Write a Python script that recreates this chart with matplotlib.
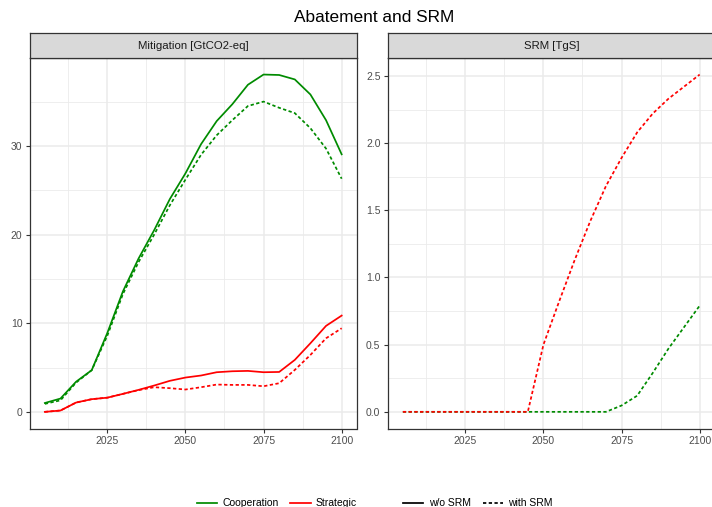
import numpy as np
import matplotlib
matplotlib.use('Agg')
import matplotlib.pyplot as plt
from matplotlib.lines import Line2D

plt.rcParams['font.family'] = ['Liberation Sans', 'DejaVu Sans']

# data
years = list(range(2005, 2101, 5))

mit_coop = [1.0, 1.5, 3.4, 4.7, 8.9, 13.6, 17.3, 20.5, 24.0, 26.9, 30.2, 32.8,
            34.7, 36.9, 38.05, 38.0, 37.5, 35.8, 32.9, 29.05]
mit_coop_srm = [0.9, 1.3, 3.3, 4.7, 8.6, 13.3, 16.9, 20.0, 23.3, 26.2, 29.0, 31.2,
                32.9, 34.5, 35.0, 34.3, 33.7, 32.0, 29.7, 26.3]
mit_strat = [0.0, 0.15, 1.05, 1.43, 1.6, 2.03, 2.48, 2.97, 3.5, 3.87, 4.1, 4.47,
             4.58, 4.62, 4.47, 4.5, 5.86, 7.74, 9.7, 10.86]
mit_strat_srm = [0.0, 0.15, 1.05, 1.43, 1.6, 2.03, 2.45, 2.78, 2.67, 2.52, 2.78, 3.08,
                 3.04, 3.04, 2.89, 3.23, 4.73, 6.42, 8.3, 9.43]

srm_coop = [0, 0, 0, 0, 0, 0, 0, 0, 0, 0, 0, 0, 0, 0, 0.047, 0.12, 0.29, 0.47, 0.63, 0.79]
srm_strat = [0, 0, 0, 0, 0, 0, 0, 0, 0, 0.5, 0.82, 1.13, 1.42, 1.68, 1.89, 2.08,
             2.22, 2.33, 2.42, 2.51]

GREEN = '#008B00'
RED = '#FF0000'
LW = 1.25
DASH = (1.9, 1.4)
GRID = '#EBEBEB'
DARK = '#333333'
TXT = '#4D4D4D'

W, H = 712, 507
fig = plt.figure(figsize=(W / 100, H / 100), dpi=100)


def px(x0, y0, x1, y1):
    return [x0 / W, 1 - y1 / H, (x1 - x0) / W, (y1 - y0) / H]


def style(ax, xmaj, xmin, ymaj, ymin, yfmt):
    ax.set_xticks(xmaj)
    ax.set_xticks(xmin, minor=True)
    ax.set_yticks(ymaj)
    ax.set_yticks(ymin, minor=True)
    ax.set_yticklabels([yfmt % v for v in ymaj])
    ax.grid(which='major', color=GRID, lw=1.1)
    ax.grid(which='minor', color=GRID, lw=0.6)
    ax.set_axisbelow(True)
    ax.tick_params(which='major', length=2.9, width=0.8, color=DARK,
                   labelsize=7.5, labelcolor=TXT, pad=2.5)
    ax.tick_params(which='minor', length=0)
    for s in ax.spines.values():
        s.set_color(DARK)
        s.set_linewidth(0.9)


def strip(x0, x1, label):
    sa = fig.add_axes(px(x0, 33.3, x1, 57.7))
    sa.set_facecolor('#D9D9D9')
    sa.set_xticks([])
    sa.set_yticks([])
    for s in sa.spines.values():
        s.set_color(DARK)
        s.set_linewidth(0.9)
    sa.text(0.5, 0.5, label, ha='center', va='center', fontsize=8.2,
            color='#1A1A1A', transform=sa.transAxes)


xlim = (2000.25, 2104.75)
xmaj = [2025, 2050, 2075, 2100]
xmin = [2012.5, 2037.5, 2062.5, 2087.5]

# left panel: mitigation
ax1 = fig.add_axes(px(30, 57.7, 356.5, 428.7))
ax1.plot(years, mit_coop, color=GREEN, lw=LW)
ax1.plot(years, mit_coop_srm, color=GREEN, lw=LW, ls=(0, DASH))
ax1.plot(years, mit_strat, color=RED, lw=LW)
ax1.plot(years, mit_strat_srm, color=RED, lw=LW, ls=(0, DASH))
ax1.set_xlim(*xlim)
ax1.set_ylim(-1.9, 39.95)
style(ax1, xmaj, xmin, [0, 10, 20, 30], [5, 15, 25, 35], '%d')
strip(30, 356.5, 'Mitigation [GtCO2-eq]')

# right panel: SRM
ax2 = fig.add_axes(px(388, 57.7, 714.5, 428.7))
ax2.plot(years, srm_coop, color=GREEN, lw=LW, ls=(0, DASH))
ax2.plot(years, srm_strat, color=RED, lw=LW, ls=(0, DASH))
ax2.set_xlim(*xlim)
ax2.set_ylim(-0.1255, 2.6355)
style(ax2, xmaj, xmin, [0, 0.5, 1.0, 1.5, 2.0, 2.5],
      [0.25, 0.75, 1.25, 1.75, 2.25], '%.1f')
strip(388, 714.5, 'SRM [TgS]')

fig.text(373.8 / W, 1 - 18 / H, 'Abatement and SRM', ha='center', va='center',
         fontsize=12.4, color='black')

# legends at the bottom
col_handles = [Line2D([], [], color=GREEN, lw=LW), Line2D([], [], color=RED, lw=LW)]
lt_handles = [Line2D([], [], color='black', lw=LW),
              Line2D([], [], color='black', lw=LW, ls=(0, DASH))]
leg_kw = dict(loc='center left', frameon=False, fontsize=7.5, ncol=2,
              handlelength=1.95, handletextpad=0.5, columnspacing=1.15,
              borderpad=0, borderaxespad=0)
fig.legend(col_handles, ['Cooperation', 'Strategic'],
           bbox_to_anchor=(196.7 / W, 1 - 503.5 / H), **leg_kw)
fig.legend(lt_handles, ['w/o SRM', 'with SRM'],
           bbox_to_anchor=(403 / W, 1 - 503.5 / H), **leg_kw)

fig.savefig('out.png', dpi=100)
